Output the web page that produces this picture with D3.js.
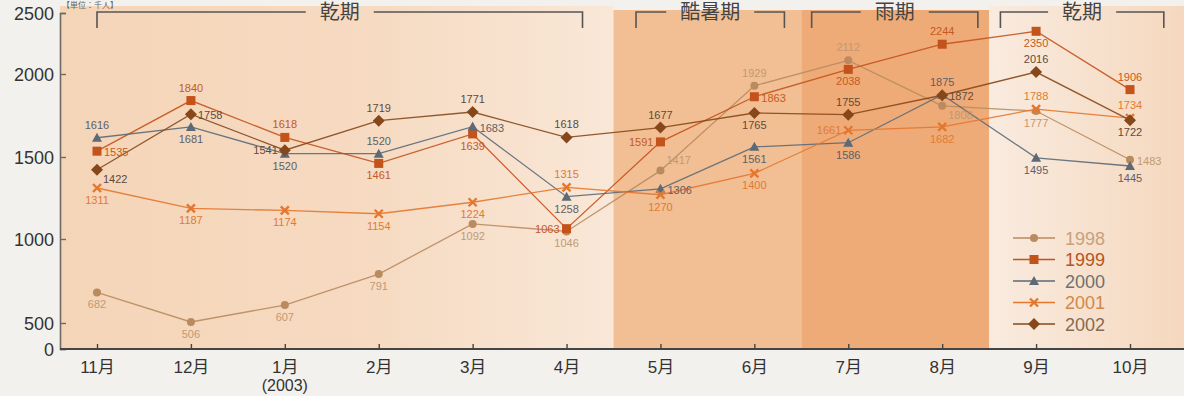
<!DOCTYPE html>
<html>
<head>
<meta charset="utf-8">
<script src="https://cdn.jsdelivr.net/npm/d3@7"></script>
<style>
  html, body { margin: 0; padding: 0; background: #f3f1ee; }
  svg { display: block; }
  text { font-family: "Liberation Sans", Arial, "Noto Sans CJK JP", sans-serif; }
</style>
</head>
<body>
<svg id="chart" width="1184" height="396"></svg>
<script>
// Months (Nov 2002 – Oct 2003)
const months = ["11月", "12月", "1月", "2月", "3月", "4月", "5月", "6月", "7月", "8月", "9月", "10月"];
const years = ["1998", "1999", "2000", "2001", "2002"];

const values1998 = [682, 506, 607, 791, 1092, 1046, 1417, 1929, 2112, 1808, 1777, 1483];
const values1999 = [1535, 1840, 1618, 1461, 1639, 1063, 1591, 1863, 2038, 2244, 2350, 1906];
const values2000 = [1616, 1681, 1520, 1520, 1683, 1258, 1306, 1561, 1586, 1875, 1495, 1445];
const values2001 = [1311, 1187, 1174, 1154, 1224, 1315, 1270, 1400, 1661, 1682, 1788, 1734];
const values2002 = [1422, 1758, 1541, 1719, 1771, 1618, 1677, 1765, 1755, 1872, 2016, 1722];

const yTicks = [0, 500, 1000, 1500, 2000, 2500];

// Seasons: label, first month, last month
const seasonLabels = ["乾期", "酷暑期", "雨期", "乾期"];
const seasonStart = ["11月", "5月", "7月", "9月"];
const seasonEnd = ["4月", "6月", "8月", "10月"];

// Where each value label sits relative to its marker (t/b/l/r, with diagonal variants)
const place1998 = ["b", "b", "b", "b", "b", "b", "tr", "t", "t", "br", "b", "r"];
const place1999 = ["r", "t", "t", "b", "b", "l", "l", "r", "b", "t", "b", "t"];
const place2000 = ["t", "b", "b", "t", "r", "b", "r", "b", "b", "t", "b", "b"];
const place2001 = ["b", "b", "b", "b", "b", "t", "b", "b", "l", "b", "t", "t"];
const place2002 = ["br", "r", "l", "t", "t", "t", "t", "b", "t", "r", "t", "b"];

const series = [
  { name: years[0], values: values1998, place: place1998, color: "#b98b5f", label: "#c09a74", legend: "#c6a27e", symbol: "circle" },
  { name: years[1], values: values1999, place: place1999, color: "#c4521b", label: "#c55a22", legend: "#b4561f", symbol: "square" },
  { name: years[2], values: values2000, place: place2000, color: "#5c6977", label: "#5e6066", legend: "#707070", symbol: "triangle" },
  { name: years[3], values: values2001, place: place2001, color: "#e4772d", label: "#e27a33", legend: "#d3874a", symbol: "cross" },
  { name: years[4], values: values2002, place: place2002, color: "#86481a", label: "#5e4a3a", legend: "#866a52", symbol: "diamond" }
];

const W = 1184, H = 396;
const svg = d3.select("#chart");
const axisY = 349, axisX = 60, plotTop = 6;

const x = d3.scalePoint().domain(months).range([97, 1130]);
const step = x.step();
const y = d3.scaleLinear().domain(yTicks).range([349, 323, 239, 157, 74, 13]);

// ----- background shading -----
const defs = svg.append("defs");
const g1 = defs.append("linearGradient").attr("id", "dryA").attr("x1", 0).attr("x2", 1);
g1.append("stop").attr("offset", 0).attr("stop-color", "#f5d5b8");
g1.append("stop").attr("offset", 0.55).attr("stop-color", "#f6dac1");
g1.append("stop").attr("offset", 1).attr("stop-color", "#f9e7d7");
const g2 = defs.append("linearGradient").attr("id", "dryB").attr("x1", 0).attr("x2", 1);
g2.append("stop").attr("offset", 0).attr("stop-color", "#f9ebdf");
g2.append("stop").attr("offset", 1).attr("stop-color", "#f5d8be");

const shadeFill = ["url(#dryA)", "#f1bf93", "#eeab77", "url(#dryB)"];
const shadeTop = [plotTop, 10, 10, plotTop];

function leftEdge(m) {
  const i = months.indexOf(m);
  return i === 0 ? axisX : x(m) - step / 2;
}
function rightEdge(m) {
  const i = months.indexOf(m);
  return i === months.length - 1 ? W : x(m) + step / 2;
}

svg.append("g").selectAll("rect")
  .data(seasonLabels)
  .join("rect")
  .attr("x", (d, i) => leftEdge(seasonStart[i]))
  .attr("y", (d, i) => shadeTop[i])
  .attr("width", (d, i) => rightEdge(seasonEnd[i]) - leftEdge(seasonStart[i]))
  .attr("height", (d, i) => axisY - shadeTop[i])
  .attr("fill", (d, i) => shadeFill[i]);

// ----- season brackets -----
const idx = d3.scaleLinear().domain([0, 11]).range(x.range());
const bracketFrom = [0, 5.74, 7.61, 9.62];
const bracketTo = [5.17, 7.32, 9.38, 11.36];
const bracketY = 12, bracketDrop = 16;
const bg = svg.append("g").attr("stroke", "#555").attr("stroke-width", 1.6).attr("fill", "none");
seasonLabels.forEach((lab, i) => {
  const x0 = idx(bracketFrom[i]), x1 = idx(bracketTo[i]);
  const cx = (x0 + x1) / 2;
  const half = lab.length * 10 + 14;
  bg.append("path").attr("d", `M${x0},${bracketY + bracketDrop}V${bracketY}H${cx - half}`);
  bg.append("path").attr("d", `M${cx + half},${bracketY}H${x1}V${bracketY + bracketDrop}`);
  svg.append("text")
    .attr("x", cx).attr("y", bracketY + 7)
    .attr("text-anchor", "middle")
    .attr("font-size", 20)
    .attr("fill", "#444")
    .text(lab);
});

// unit caption at the top-left corner of the plot
svg.append("text").attr("x", 62).attr("y", 8)
  .attr("font-size", 8).attr("fill", "#666")
  .text("【単位：千人】");

// ----- axes -----
const yAxis = d3.axisLeft(y).tickValues(yTicks).tickFormat(d3.format("d")).tickSize(-6).tickPadding(6);
const gy = svg.append("g").attr("transform", `translate(${axisX},0)`).call(yAxis);
gy.select(".domain").attr("stroke", "#6d6a66").attr("stroke-width", 1.6);
gy.selectAll(".tick line").attr("stroke", "#6d6a66").attr("stroke-width", 1.4);
gy.selectAll(".tick text")
  .attr("font-size", 18).attr("fill", "#333")
  .attr("font-family", "'Liberation Sans', Arial, sans-serif")
  .attr("dy", "0.36em");

const xAxis = d3.axisBottom(x).tickSize(-5).tickPadding(12);
const gx = svg.append("g").attr("transform", `translate(0,${axisY})`).call(xAxis);
gx.select(".domain").attr("d", `M${axisX},0H${W}`).attr("stroke", "#444").attr("stroke-width", 2);
gx.selectAll(".tick line").attr("stroke", "#444").attr("stroke-width", 1.4);
gx.selectAll(".tick text")
  .attr("font-size", 17).attr("fill", "#333")
  .attr("font-family", "'Liberation Sans', Arial, 'Noto Sans CJK JP', sans-serif");
gx.append("text")
  .attr("x", x("1月")).attr("y", 42)
  .attr("text-anchor", "middle")
  .attr("font-size", 16).attr("fill", "#333")
  .text("(2003)");

// ----- markers -----
function drawSymbol(g, type, cx, cy, color) {
  if (type === "circle") {
    g.append("circle").attr("cx", cx).attr("cy", cy).attr("r", 4).attr("fill", color);
  } else if (type === "square") {
    g.append("rect").attr("x", cx - 4.5).attr("y", cy - 4.5).attr("width", 9).attr("height", 9).attr("fill", color);
  } else if (type === "triangle") {
    g.append("path").attr("d", `M${cx},${cy - 5}L${cx + 5},${cy + 4}L${cx - 5},${cy + 4}Z`).attr("fill", color);
  } else if (type === "diamond") {
    g.append("path").attr("d", `M${cx},${cy - 6}L${cx + 6},${cy}L${cx},${cy + 6}L${cx - 6},${cy}Z`).attr("fill", color);
  } else if (type === "cross") {
    g.append("path").attr("d", `M${cx - 4},${cy - 4}L${cx + 4},${cy + 4}M${cx + 4},${cy - 4}L${cx - 4},${cy + 4}`)
      .attr("stroke", color).attr("stroke-width", 2.4).attr("fill", "none");
  }
}

const line = d3.line().x((d, i) => x(months[i])).y(d => y(d));

const offsets = {
  t: [0, -9, "middle"], b: [0, 16, "middle"], l: [-7, 4, "end"], r: [7, 5, "start"],
  tr: [6, -7, "start"], br: [6, 13, "start"]
};

const linesG = svg.append("g");
const marksG = svg.append("g");
const labelsG = svg.append("g");

series.forEach(s => {
  linesG.append("path").datum(s.values)
    .attr("d", line)
    .attr("fill", "none")
    .attr("stroke", s.color)
    .attr("stroke-width", 1.3)
    .attr("opacity", 0.9);
  s.values.forEach((v, i) => {
    const cx = x(months[i]), cy = y(v);
    drawSymbol(marksG, s.symbol, cx, cy, s.color);
    const o = offsets[s.place[i]];
    labelsG.append("text")
      .attr("x", cx + o[0]).attr("y", cy + o[1])
      .attr("text-anchor", o[2])
      .attr("font-size", 11)
      .attr("fill", s.label)
      .text(v);
  });
});

// ----- legend -----
const lg = svg.append("g").attr("transform", "translate(1013,238)");
series.forEach((s, i) => {
  const row = lg.append("g").attr("transform", `translate(0,${i * 21.5})`);
  row.append("line").attr("x1", 0).attr("x2", 42).attr("y1", 0).attr("y2", 0)
    .attr("stroke", s.color).attr("stroke-width", 1.4);
  drawSymbol(row, s.symbol, 21, 0, s.color);
  row.append("text").attr("x", 52).attr("y", 6.5)
    .attr("font-size", 18).attr("fill", s.legend)
    .text(s.name);
});
</script>
</body>
</html>
